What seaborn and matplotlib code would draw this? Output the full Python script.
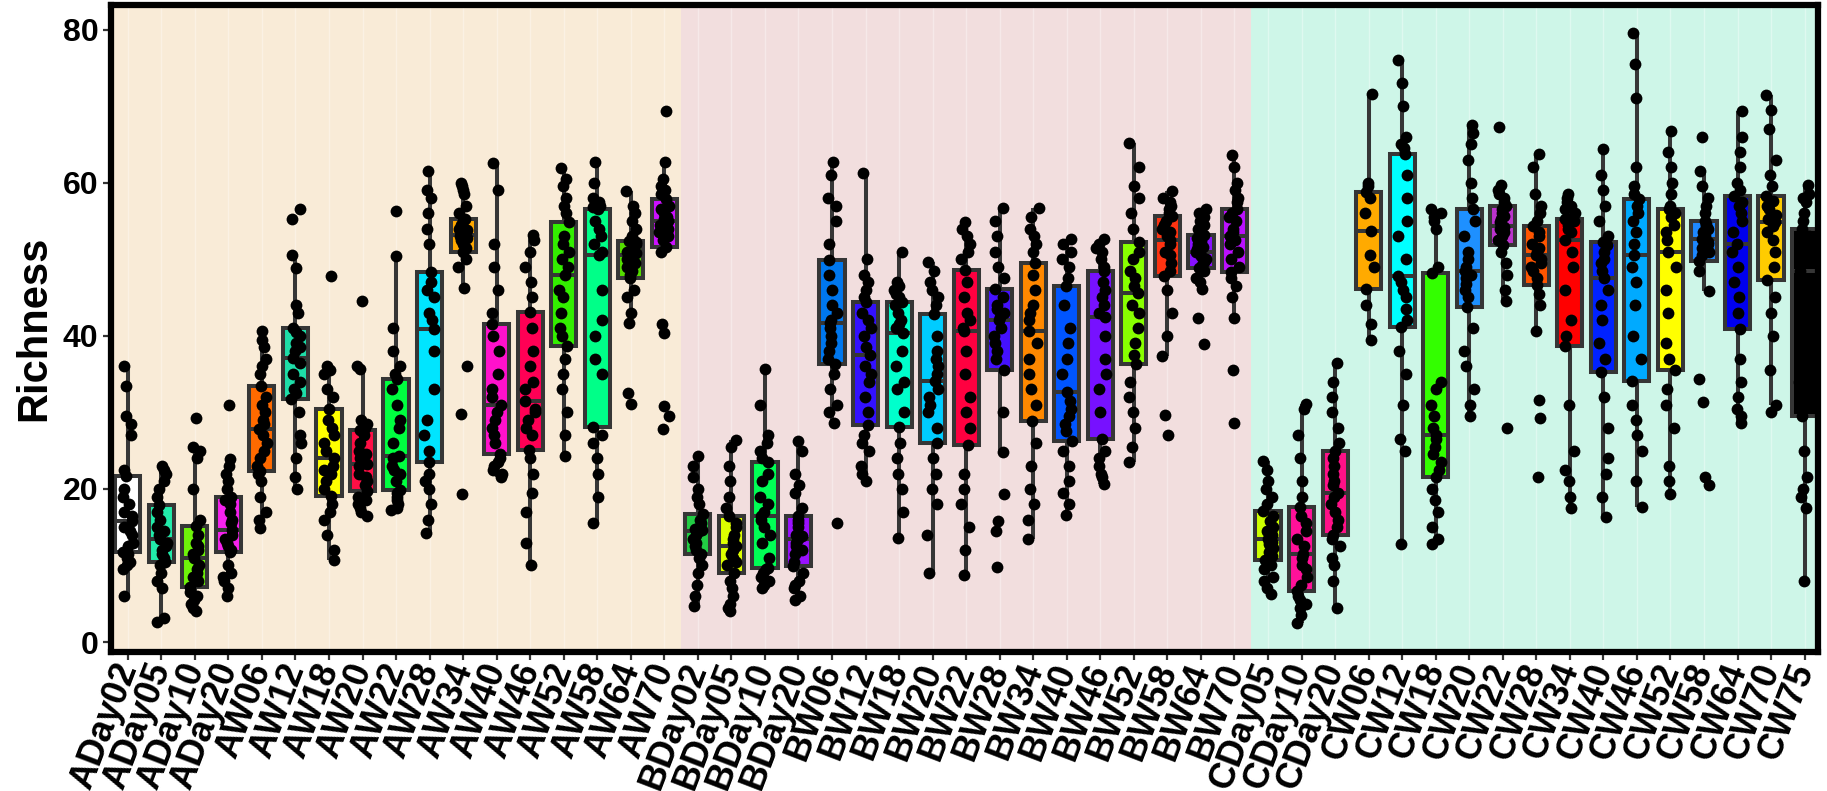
import numpy as np
import pandas as pd
import matplotlib
matplotlib.use("Agg")
import matplotlib.pyplot as plt
import seaborn as sns

# ---- sample labels -------------------------------------------------------
labels_a = ["ADay02", "ADay05", "ADay10", "ADay20", "AW06", "AW12", "AW18", "AW20",
            "AW22", "AW28", "AW34", "AW40", "AW46", "AW52", "AW58", "AW64", "AW70"]
labels_b = ["BDay02", "BDay05", "BDay10", "BDay20", "BW06", "BW12", "BW18", "BW20",
            "BW22", "BW28", "BW34", "BW40", "BW46", "BW52", "BW58", "BW64", "BW70"]
labels_c = ["CDay05", "CDay10", "CDay20", "CW06", "CW12", "CW18", "CW20", "CW22",
            "CW28", "CW34", "CW40", "CW46", "CW52", "CW58", "CW64", "CW70", "CW75"]

# ---- richness per sample (group A) ---------------------------------------
richness_a = [
    [6, 9.5, 10, 10.5, 11, 11.5, 11.8, 12.5, 13, 14, 14.5, 15, 15.8, 16.5, 17, 18, 19, 20, 21.7, 22.5, 27, 28.5, 29.5, 33.5, 36],
    [2.6, 3.2, 7, 8, 9, 10, 10.4, 11, 11.5, 12, 12.5, 13, 13.4, 14, 14.5, 15, 16, 17, 17.9, 19, 20, 21, 22, 22.5, 23],
    [4.1, 4.5, 5, 5.5, 6, 6.5, 7.2, 8, 8.5, 9, 9.5, 10, 11, 11.5, 12, 12.5, 13, 14, 15.1, 16, 20, 24, 25, 25.5, 29.2],
    [6, 7, 8, 8.5, 9, 10, 11.7, 12, 12.5, 13, 13.5, 14, 14.6, 15.5, 16, 17, 18, 18.5, 19, 20, 21, 22, 23, 23.9, 30.9],
    [14.9, 16, 17, 19, 21, 22, 22.4, 23, 24, 25, 26, 27, 27.8, 28.5, 29, 30, 31, 32, 33.5, 35, 36, 37, 38.5, 39.5, 40.6],
    [20, 21.5, 24, 26, 27, 30, 31.7, 32.5, 33, 34, 35, 36.5, 37.1, 38, 38.5, 39, 40, 40.5, 41, 43, 44, 48.8, 50.5, 55.2, 56.6],
    [10.7, 12, 14, 16, 17, 18, 19.1, 20, 21, 22, 22.5, 23, 24, 25, 26, 27, 28, 29, 30.5, 32, 33, 35, 35.5, 36, 47.8],
    [16.4, 17, 17.5, 18, 18.5, 19, 19.7, 20.5, 21, 21.5, 22, 23, 23.2, 24, 24.5, 25, 26, 27, 27.7, 28, 28.5, 29, 35.7, 36, 44.6],
    [17.2, 17.5, 18, 18.5, 19, 19.5, 19.8, 21, 22, 22.5, 23, 24, 24.3, 26, 28, 29, 31, 33, 34.3, 35, 36, 38, 41, 50.4, 56.3],
    [14.3, 16, 18, 20, 21, 22, 23.5, 25, 27, 29, 33, 38, 40.9, 42, 43, 45, 46, 47, 48.3, 52, 54, 56, 58, 59, 61.5],
    [19.3, 29.8, 36.1, 46.2, 49, 50, 51, 51.5, 52, 52.5, 52.8, 53, 53.2, 53.5, 53.8, 54, 54.5, 55, 55.3, 56, 57, 58.5, 59, 59.5, 60],
    [21.5, 22, 22.5, 23, 23.5, 24, 24.5, 26, 27, 28, 29, 30, 31, 32, 33, 35, 38, 40, 41.5, 43, 46, 49, 52, 59, 62.5],
    [10.1, 13, 17, 19.5, 22, 24, 25.1, 27, 28, 29, 30, 30.5, 31.5, 33, 34, 36, 38, 41, 43.1, 45, 47, 49, 51, 52.5, 53.2],
    [24.3, 27, 30, 33, 35, 37, 38.7, 40, 41, 43, 45, 46, 48, 49, 50, 51, 52, 53, 54.8, 56, 57, 58, 59.5, 60.5, 61.9],
    [15.5, 19, 22, 24, 26, 27, 28.1, 35, 37, 40, 42, 46, 50.5, 51, 52, 53, 54, 55, 56.5, 56.8, 57, 57.5, 58, 60, 62.7],
    [31.1, 32.5, 41.7, 43, 45, 46, 47.5, 48, 48.5, 49, 49.5, 50, 50.5, 50.8, 51, 51.5, 52, 52.2, 52.4, 53, 54, 55, 56, 57, 58.9],
    [27.8, 29.5, 30.8, 40.4, 41.6, 51, 51.6, 52.5, 53, 53.5, 54, 54.5, 55, 55.2, 55.5, 56, 56.5, 57, 57.8, 58.5, 59, 59.5, 60.5, 62.7, 69.3],
]

# ---- richness per sample (group B) ---------------------------------------
richness_b = [
    [4.7, 6, 7.5, 9, 10, 11, 11.5, 12, 12.5, 13, 13.5, 14, 14.5, 14.6, 14.8, 15, 15.5, 16, 16.7, 18, 19, 20, 21.5, 23, 24.3],
    [4.1, 4.5, 5, 6, 7, 8, 9.0, 10, 10.5, 11, 11.5, 12, 12.5, 13, 13.5, 14, 15, 15.5, 16.4, 17.5, 19, 21, 23, 25.5, 26.4],
    [7.1, 7.5, 8, 8.5, 9, 9.5, 9.7, 11, 13, 14, 15, 16, 16.4, 17, 18, 19, 21, 22, 23.5, 24, 25, 26, 27, 31, 35.7],
    [5.5, 6, 7, 7.5, 8, 9, 9.9, 10.5, 11.5, 12, 12.5, 13, 13.4, 13.8, 14, 15, 15.5, 16, 16.5, 17.5, 19.5, 20.5, 22, 25, 26.2],
    [15.6, 28.6, 30, 31, 33, 35, 36.3, 37, 38, 39, 40, 41, 41.7, 42, 43, 44, 46, 48, 49.9, 52, 55, 57, 58, 61, 62.7],
    [21, 22, 23, 25, 26, 27, 28.4, 30, 32, 34, 35, 36, 37.5, 38.5, 40, 41, 42, 43, 44.4, 45, 46, 47, 48, 50, 61.3],
    [13.6, 17, 20, 22, 24, 26, 28.1, 30, 33, 34, 36, 38, 40.4, 41, 41.5, 42, 43, 44, 44.4, 45, 45.5, 46, 46.5, 47, 51],
    [9, 14, 18, 20, 22, 24, 26, 28, 30, 31, 32, 33, 34.1, 35, 36, 37, 38, 40, 42.9, 44, 45, 46, 47, 48.5, 49.6],
    [8.7, 12, 15, 18, 20, 22, 25.8, 28, 30, 32, 35, 38, 40.6, 41, 42, 43, 45, 47, 48.6, 50, 51, 52, 53, 54, 54.8],
    [9.8, 14.5, 15.8, 19.3, 24.8, 30, 35.5, 37, 38, 39, 40, 41, 42, 42.5, 43, 43.5, 44, 45, 46.1, 47.5, 49, 51, 53, 55, 56.7],
    [13.4, 16, 18, 20, 23, 26, 28.9, 31, 33, 35, 37, 39, 40.6, 42, 43, 44, 46, 48, 49.5, 51, 52, 53, 54, 55.5, 56.7],
    [16.6, 18, 19.5, 21, 23, 25, 26.2, 27.5, 28.5, 29.5, 30.5, 31.5, 32.7, 35, 37, 39, 41, 44, 46.5, 47.5, 49, 50, 51, 52, 52.6],
    [20.7, 21.5, 22, 23, 24, 25, 26.5, 30, 33, 35, 37, 40, 42.5, 43, 44, 45, 46, 47, 48.4, 49, 50, 51, 51.5, 52, 52.6],
    [23.5, 25.5, 28, 30, 32, 34, 36.3, 37.5, 39, 41, 43, 44, 45.6, 46.5, 47.5, 48.5, 50, 51, 52.2, 54, 56, 58, 59.5, 62, 65.2],
    [27, 29.7, 37.4, 40, 43, 46, 47.8, 48.5, 49.5, 50.5, 51, 52, 52.5, 53, 53.5, 54, 54.5, 55, 55.6, 56, 56.5, 57, 57.5, 58, 58.9],
    [38.9, 42.3, 46.1, 47, 47.5, 48.5, 48.9, 49.3, 49.6, 50, 50.4, 50.7, 51, 51.3, 51.6, 52, 52.4, 52.8, 53.1, 54, 54.5, 55, 55.5, 56, 56.5],
    [28.6, 35.5, 42.3, 45, 46.5, 47.5, 48.3, 49, 50, 51, 52, 52.5, 53, 53.5, 54, 55, 55.5, 56, 56.6, 57.5, 58, 59, 60, 62, 63.6],
]

# ---- richness per sample (group C) ---------------------------------------
richness_c = [
    [6.3, 7, 8, 8.5, 9.5, 10, 10.7, 11.2, 11.8, 12.3, 12.8, 13.1, 13.4, 14, 14.5, 15, 15.8, 16.5, 17.1, 18, 19, 20, 21, 22.5, 23.7],
    [2.5, 3.5, 4.5, 5, 5.5, 6, 6.7, 7.5, 8.5, 9.5, 10, 11, 11.5, 12.5, 13.5, 14.5, 15.5, 16.5, 17.7, 19, 21, 24, 27, 30.5, 31.1],
    [4.4, 8, 10, 11, 12.5, 13.5, 14.0, 15, 16, 17, 18, 19, 19.5, 20.5, 21, 22, 23, 24, 24.9, 26, 28, 30, 32, 34, 36.4],
    [39.4, 41.5, 44, 46.1, 49, 50.5, 53.7, 56, 58, 58.8, 59.5, 60, 71.6],
    [12.8, 25, 26.5, 31, 35, 38, 41.2, 42, 43.5, 45, 46, 47, 47.8, 50, 53, 55, 58, 61, 63.7, 64.5, 65, 66, 70, 73, 76],
    [12.8, 13.5, 15, 17, 18.5, 20, 21.5, 22.5, 23.5, 24.5, 25.5, 26.5, 27, 28, 29.5, 31, 33, 34, 48.2, 49, 54, 55, 55.5, 56, 56.5],
    [29.5, 31, 33, 36, 38, 41, 43.8, 45, 46, 46.8, 47.5, 48, 48.4, 49, 50, 51, 53, 55, 56.6, 58, 60, 63, 65, 66.5, 67.5],
    [28, 44.5, 46, 48, 49.5, 51, 51.9, 52.5, 53, 53.5, 54, 54.2, 54.3, 54.8, 55.2, 55.6, 56, 56.5, 57, 57.5, 58, 58.5, 59, 59.7, 67.3],
    [21.5, 29.2, 31.6, 40.6, 44, 45.5, 46.6, 47.5, 48.5, 49, 49.5, 50, 50.5, 51, 51.5, 52, 53, 53.5, 54.3, 55, 56, 57, 58.5, 62, 63.8],
    [17.5, 19, 21, 22.5, 25, 31, 38.7, 40, 42, 46, 49, 51, 52.5, 53.5, 54, 54.5, 55, 55.2, 55.3, 56, 56.5, 57, 57.5, 58, 58.5],
    [16.3, 19, 22, 24, 28, 32, 35.3, 37, 39, 42, 44, 46, 47.5, 48.5, 49.5, 50, 51, 51.8, 52.3, 53, 55, 57, 59, 61, 64.4],
    [17.6, 21, 25, 27, 29, 31, 34.1, 37, 40, 44, 47, 49, 50.6, 52, 53.5, 55, 56, 57, 57.8, 58.5, 59.5, 62, 71, 75.5, 79.5],
    [19.4, 21, 23, 28, 31, 33, 35.5, 37, 39, 43, 46, 49, 51, 52.5, 53.5, 54.5, 55.5, 56, 56.5, 57, 58.5, 60, 62, 64, 66.7],
    [20.5, 21.5, 31.4, 34.4, 45.8, 48.5, 49.8, 50.5, 51, 51.5, 52, 52.3, 52.6, 53, 53.5, 54, 54.3, 54.6, 55, 56, 57, 58, 59.5, 61.5, 66],
    [28.6, 29.5, 30.5, 32, 34, 37, 40.9, 43, 45, 47, 49, 51, 52, 53.5, 55, 56, 57, 57.5, 58.2, 59, 60, 62, 64, 66, 69.4],
    [30, 31, 35.5, 40, 43, 45, 47.3, 49, 51, 52.5, 53.5, 54.3, 54.8, 55.2, 55.8, 56.5, 57, 57.6, 58.2, 59.5, 61, 63, 67, 69.5, 71.5],
    [8, 17.5, 19, 20, 21.5, 25, 29.5, 31, 34, 37, 41, 45, 48.4, 50, 51, 52, 52.5, 53, 54, 55, 56, 57.5, 58, 58.5, 59.7],
]

# ---- box fill colours ------------------------------------------------------
colors_a = ["#FFFFFF", "#22EBAA", "#6EF20A", "#F522EE", "#FF6A00", "#1EDDA8", "#FFFF00", "#FF0F45",
            "#00FF40", "#00E5FF", "#FFA800", "#FF11CC", "#FF0055", "#33EE00", "#00FF88", "#55DD00", "#CC11FF"]
colors_b = ["#22CC44", "#DDFF00", "#00FF55", "#9911FF", "#0077EE", "#3311FF", "#00FFCC", "#00CCFF",
            "#FF0040", "#4411FF", "#FF8800", "#0055FF", "#7711FF", "#88FF00", "#FF3311", "#8811FF", "#BB11FF"]
colors_c = ["#CCFF00", "#FF1199", "#FF1188", "#FFAA00", "#00FFFF", "#33FF00", "#1E90FF", "#BB33CC",
            "#FF5500", "#FF0000", "#0022FF", "#00AAFF", "#FFFF00", "#1E88FF", "#0000EE", "#FFCC00", "#000000"]

# panel shading for the three groups
shade_a, shade_b, shade_c = "#F9EBD7", "#F2DEDE", "#CEF6E8"

order = labels_a + labels_b + labels_c
palette = dict(zip(order, colors_a + colors_b + colors_c))

rows = []
for labels, values in ((labels_a, richness_a), (labels_b, richness_b), (labels_c, richness_c)):
    for lab, vals in zip(labels, values):
        rows.extend((lab, v) for v in vals)
df = pd.DataFrame(rows, columns=["sample", "Richness"])

sns.set_theme(style="white")
plt.rcParams["font.family"] = ["Liberation Sans", "DejaVu Sans"]
plt.rcParams["font.weight"] = "bold"
for key in ("text.color", "axes.labelcolor", "xtick.color", "ytick.color"):
    plt.rcParams[key] = "black"

W, H = 1827, 791
fig = plt.figure(figsize=(W / 100, H / 100), dpi=100)
ax = fig.add_axes([111 / W, 1 - 652 / H, (1818 - 111) / W, (652 - 5) / H])

n_a, n_b = len(labels_a), len(labels_b)
x_lo, x_hi = -0.5, len(order) - 0.6
ax.axvspan(x_lo, n_a - 0.5, color=shade_a, lw=0, zorder=0)
ax.axvspan(n_a - 0.5, n_a + n_b - 0.5, color=shade_b, lw=0, zorder=0)
ax.axvspan(n_a + n_b - 0.5, x_hi, color=shade_c, lw=0, zorder=0)
for i in range(len(order)):
    ax.axvline(i, color="white", alpha=0.35, lw=1.0, zorder=0.5)

sns.boxplot(data=df, x="sample", y="Richness", hue="sample", order=order, hue_order=order,
            palette=palette, legend=False, width=0.75, saturation=1, showcaps=False,
            showfliers=False, whis=1.5, linecolor="#363636", linewidth=2.9, ax=ax)

np.random.seed(11)
sns.stripplot(data=df, x="sample", y="Richness", order=order, color="black", size=8.5,
              jitter=0.16, linewidth=0, ax=ax, zorder=4)

ax.set_xlim(x_lo, x_hi)
ax.set_ylim(-1.3, 83.2)
ax.set_yticks([0, 20, 40, 60, 80])
ax.set_yticklabels(["0", "20", "40", "60", "80"], fontsize=23, fontweight="bold")
ax.set_xticks(range(len(order)))
ax.set_xticklabels(order, rotation=69, ha="right", va="center", rotation_mode="anchor",
                   fontsize=26, fontweight="bold")
ax.set_xlabel("")
ax.set_ylabel("Richness", fontsize=30, fontweight="bold", labelpad=6)
ax.tick_params(axis="both", which="major", bottom=True, left=True, length=6, width=1.6,
               color="#333333", pad=3)
for sp in ax.spines.values():
    sp.set_linewidth(4.5)
    sp.set_color("black")
    sp.set_zorder(6)

fig.savefig("out.png", dpi=100)
